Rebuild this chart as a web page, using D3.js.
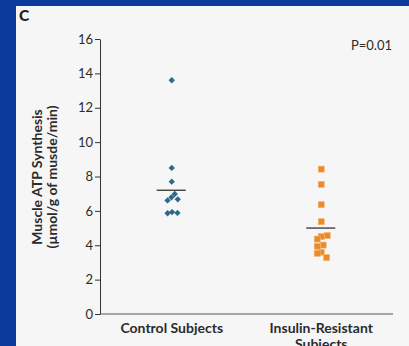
<!DOCTYPE html>
<html>
<head>
<meta charset="utf-8">
<script src="https://cdn.jsdelivr.net/npm/d3@7"></script>
<style>
  html, body { margin: 0; padding: 0; background: #0a3a9c; }
  svg { display: block; }
</style>
</head>
<body>
<svg id="chart" width="409" height="346"></svg>
<script>
// Muscle ATP synthesis per subject, by group
const groups = ["Control Subjects", "Insulin-Resistant Subjects"];
const controlValues = [13.6, 8.5, 7.7, 6.61, 6.79, 6.98, 6.67, 5.86, 5.93, 5.88];
const controlJitter = [0, 0, 0, -0.7, -0.05, 0.5, 1.0, -0.7, 0.05, 0.95];
const resistantValues = [8.43, 7.54, 6.36, 5.37, 4.56, 4.5, 4.36, 4.01, 3.94, 3.59, 3.53, 3.28];
const resistantJitter = [0, 0, 0, 0, 1.0, 0, -0.67, 0.33, -0.67, 0, -0.67, 0.9];
const groupMeans = [7.2, 5.0];
const yTicks = [0, 2, 4, 6, 8, 10, 12, 14, 16];
const pValueText = "P=0.01";

const svg = d3.select("#chart");
const W = 409, H = 346;
const font = "Lato, 'Open Sans', sans-serif";
const textColor = "#2b2b2b";

// page backdrop and panel
svg.append("rect").attr("width", W).attr("height", H).attr("fill", "#0a3a9c");
svg.append("rect").attr("x", 16).attr("y", 6).attr("width", W - 16).attr("height", H - 6).attr("fill", "#f6f6f6");

svg.append("text").attr("x", 19).attr("y", 21)
  .attr("font-family", font).attr("font-weight", 900).attr("font-size", 15.5)
  .attr("fill", "#222").text("C");

const y = d3.scaleLinear().domain([0, 16]).range([314, 39]);
const x = d3.scalePoint().domain(groups).range([100, 393]).padding(0.48);
const jitter = d3.scaleLinear().domain([-1, 1]).range([-6, 6]);

// y axis
const yAxis = svg.append("g").attr("transform", "translate(100,0)")
  .call(d3.axisLeft(y).tickValues(yTicks).tickSize(5).tickPadding(2).tickSizeOuter(0));
yAxis.select(".domain").attr("stroke", "#333");
yAxis.selectAll(".tick line").attr("stroke", "#333");
yAxis.selectAll(".tick text").attr("font-family", font).attr("font-size", 13).attr("fill", textColor);

// x axis baseline
svg.append("line").attr("x1", 100).attr("x2", 393).attr("y1", y(0)).attr("y2", y(0))
  .attr("stroke", "#555").attr("stroke-width", 1.2);

// y axis title
const yTitle = svg.append("text")
  .attr("transform", "translate(42,177) rotate(-90)")
  .attr("font-family", font).attr("font-weight", 700).attr("font-size", 14)
  .attr("fill", textColor).attr("text-anchor", "middle");
yTitle.append("tspan").attr("x", 0).attr("dy", 0).text("Muscle ATP Synthesis");
yTitle.append("tspan").attr("x", 0).attr("dy", 15).text("(µmol/g of musde/min)");

// group labels
svg.append("text").attr("x", x(groups[0])).attr("y", 333)
  .attr("text-anchor", "middle").attr("font-family", font).attr("font-weight", 700)
  .attr("font-size", 14).attr("fill", textColor).text("Control Subjects");
const lab2 = svg.append("text").attr("x", x(groups[1])).attr("y", 333)
  .attr("text-anchor", "middle").attr("font-family", font).attr("font-weight", 700)
  .attr("font-size", 14).attr("fill", textColor);
lab2.append("tspan").attr("x", x(groups[1])).attr("dy", 0).text("Insulin-Resistant");
lab2.append("tspan").attr("x", x(groups[1])).attr("dy", 15.5).text("Subjects");

// P value
svg.append("text").attr("x", 392).attr("y", 50).attr("text-anchor", "end")
  .attr("font-family", font).attr("font-size", 13).attr("fill", textColor).text(pValueText);

// mean lines
svg.selectAll("line.mean").data(groupMeans).join("line").attr("class", "mean")
  .attr("x1", (d, i) => x(groups[i]) - 15).attr("x2", (d, i) => x(groups[i]) + 14)
  .attr("y1", d => y(d)).attr("y2", d => y(d))
  .attr("stroke", "#333").attr("stroke-width", 1.3);

// control group: diamonds
const diamond = d3.symbol().type(d3.symbolSquare).size(20);
svg.selectAll("path.ctrl").data(controlValues).join("path").attr("class", "ctrl")
  .attr("d", diamond)
  .attr("transform", (d, i) => `translate(${x(groups[0]) + jitter(controlJitter[i])},${y(d)}) rotate(45)`)
  .attr("fill", "#2b6a88");

// insulin-resistant group: squares
svg.selectAll("rect.ir").data(resistantValues).join("rect").attr("class", "ir")
  .attr("x", (d, i) => x(groups[1]) + jitter(resistantJitter[i]) - 3)
  .attr("y", d => y(d) - 3)
  .attr("width", 6).attr("height", 6)
  .attr("fill", "#ea8a2a").attr("stroke", "#f2b36e").attr("stroke-width", 0.6);
</script>
</body>
</html>
